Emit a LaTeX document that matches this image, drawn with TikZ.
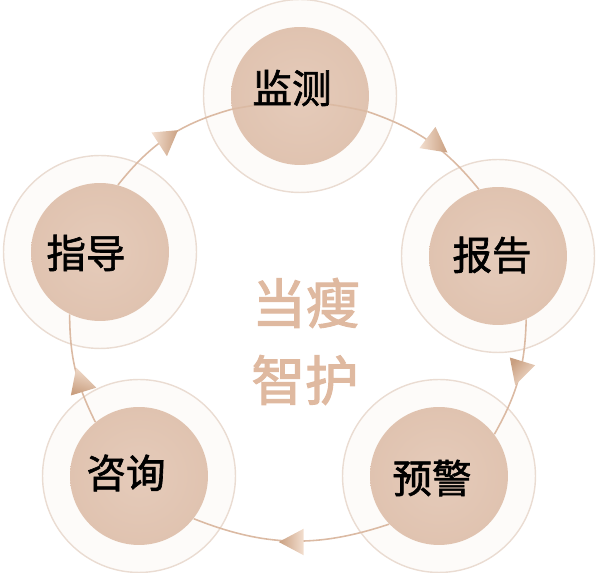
\documentclass[tikz,border=0pt]{standalone}
\usepackage{fontspec}
\setmainfont{Noto Sans CJK SC}
\newfontfamily\labelfont[FakeBold=1.6]{Noto Sans CJK SC}
\newfontfamily\titlefont[FakeBold=2.2]{Noto Sans CJK SC}
\usetikzlibrary{shapes.geometric, calc}

\definecolor{haloline}{HTML}{EADCD2}
\definecolor{halofill}{HTML}{FDFBF9}
\definecolor{discedge}{HTML}{E0C3B0}
\definecolor{disccore}{HTML}{E5CBBA}
\definecolor{ringline}{HTML}{DBBAA3}
\definecolor{tiplight}{HTML}{F3DFD0}
\definecolor{tipdark}{HTML}{C99F80}
\definecolor{titlecolor}{HTML}{DFB9A0}

\begin{document}
\begin{tikzpicture}[
		x=0.02cm,
		y=-0.02cm,
		halo/.style={
			draw=haloline,
			line width=0.8pt,
			circle,
			fill=halofill,
			inner sep=0pt,
			minimum size=3.86cm
		},
		disc/.style={
			circle,
			inner color=disccore,
			outer color=discedge,
			inner sep=0pt,
			minimum size=2.76cm
		},
		disclabel/.style={
			text=black,
			inner sep=0pt,
			font=\fontsize{22.5}{22.5}\labelfont
		},
		ring/.style={draw=ringline, line width=0.9pt},
		tip/.style={
			isosceles triangle,
			isosceles triangle apex angle=56,
			inner sep=0pt,
			anchor=apex,
			minimum height=0.5cm,
			top color=tipdark,
			bottom color=tiplight,
			shading angle=#1
		},
		title/.style={text=titlecolor, inner sep=0pt, font=\fontsize{30.5}{30.5}\titlefont}
		]
		\useasboundingbox (0,0) rectangle (600,573);
		
		% ---- Halos ----
		\node[halo] (monitorhalo) at (300,96) {};
		\node[halo] (reporthalo) at (498,256) {};
		\node[halo] (warnhalo) at (439,476) {};
		\node[halo] (consulthalo) at (139,476) {};
		\node[halo] (guidehalo) at (100,252) {};
		
		% ---- Discs ----
		\node[disc] (monitor) at (monitorhalo) {};
		\node[disc] (report) at (reporthalo) {};
		\node[disc] (warn) at (warnhalo) {};
		\node[disc] (consult) at (consulthalo) {};
		\node[disc] (guide) at (guidehalo) {};
		
		% ---- Ring ----
		\draw[ring] (guide.75) to[bend left=18] (monitor.191);
		\draw[ring] (monitor.191) to[bend left=12] (monitor.-13);
		\draw[ring] (monitor.-13) to[bend left=16] (report.106);
		\draw[ring] (report.-66) to[bend left=14] (warn.37);
		\draw[ring] (warn.-136) to[bend left=20] (consult.-38);
		\draw[ring] (consult.129) to[bend left=13] (guide.-116);
		
		% ---- Disc labels ----
		\node[disclabel] (monitortext) at (292,88) {监测};
		\node[disclabel] (reporttext) at (492,255) {报告};
		\node[disclabel] (warntext) at (432,478) {预警};
		\node[disclabel] (consulttext) at (126,473) {咨询};
		\node[disclabel] (guidetext) at (86,253) {指导};
		
		% ---- Arrow heads ----
		\node[tip=-90, rotate=-37] (tipreport) at (448,153) {};
		\node[tip=47, rotate=-107] (tipwarn) at (515,386) {};
		\node[tip=90, rotate=180] (tipconsult) at (278,542) {};
		\node[tip=-197, rotate=107] (tipguide) at (76,367) {};
		\node[tip=-95, rotate=-85] (tipmonitor) at (167,157) {};
		
		% ---- Title ----
		\node[title] (titletop) at (306,303) {当瘦};
		\node[title] (titlebottom) at (305,380) {智护};
		
	\end{tikzpicture}
\end{document}
